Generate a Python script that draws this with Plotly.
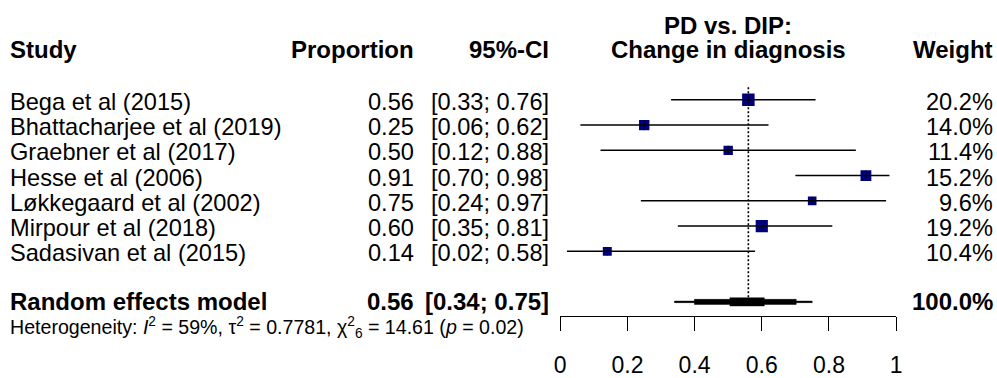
import plotly.graph_objects as go

# ---------------- data ----------------
studies = ["Bega et al (2015)", "Bhattacharjee et al (2019)", "Graebner et al (2017)",
           "Hesse et al (2006)", "Løkkegaard et al (2002)", "Mirpour et al (2018)",
           "Sadasivan et al (2015)"]
proportion = [0.56, 0.25, 0.50, 0.91, 0.75, 0.60, 0.14]
ci_lower = [0.33, 0.06, 0.12, 0.70, 0.24, 0.35, 0.02]
ci_upper = [0.76, 0.62, 0.88, 0.98, 0.97, 0.81, 0.58]
weight = [20.2, 14.0, 11.4, 15.2, 9.6, 19.2, 10.4]

pooled_label = "Random effects model"
pooled_est = 0.56
pooled_lower = 0.34
pooled_upper = 0.75
pooled_weight = 100.0

het_I2 = "59%"
het_tau2 = "0.7781"
het_df = "6"
het_chi2 = "14.61"
het_p = "0.02"

x_ticks = [0, 0.2, 0.4, 0.6, 0.8, 1]
x_tick_labels = ["0", "0.2", "0.4", "0.6", "0.8", "1"]

# ---------------- layout constants ----------------
W, H = 997, 378
FONT = "Liberation Sans, Arial, sans-serif"
FS = 23.6
FS_B = 24
FS_HET = 19.6
ROW_PX = 25.8
FIRST_ROW_PX = 102
AXIS_PX = 323
AX_LEFT, AX_RIGHT = 561, 901
LEFT_X = 3
PROP_X = 414
CI_X = 551
W_X = 1000

rows = list(range(1, len(studies) + 1))
pooled_row = len(studies) + 2

y_top = 1 - FIRST_ROW_PX / ROW_PX
y_bottom = 1 + (AXIS_PX - FIRST_ROW_PX) / ROW_PX


def px(xp):
    return xp / W


fig = go.Figure()

# reference line at pooled estimate
fig.add_trace(go.Scatter(
    x=[pooled_est, pooled_est], y=[0.5, pooled_row - 0.15], mode="lines",
    line=dict(color="black", width=1.6, dash="2px,2px"), hoverinfo="skip", showlegend=False))

# squares
wmax = max(weight)
sizes = [12.5 * (w / wmax) ** 0.5 for w in weight]
fig.add_trace(go.Scatter(
    x=proportion, y=rows, mode="markers",
    marker=dict(symbol="square", size=sizes, color="#000080", opacity=1,
                line=dict(width=0)),
    hoverinfo="skip", showlegend=False))

# CI lines
for r, lo, hi in zip(rows, ci_lower, ci_upper):
    fig.add_trace(go.Scatter(
        x=[lo, hi], y=[r, r], mode="lines",
        line=dict(color="black", width=1.5), hoverinfo="skip", showlegend=False))

# small vertical ticks at point estimates
fig.add_trace(go.Scatter(
    x=proportion, y=rows, mode="markers",
    marker=dict(symbol="line-ns", size=[s * 0.7 for s in sizes], color="black",
                line=dict(color="black", width=1)),
    hoverinfo="skip", showlegend=False))

# pooled diamond (stepped, as in the low-resolution reference)
h0, h1, h2 = 0.03, 0.10, 0.16
dl = pooled_est - pooled_lower
du = pooled_upper - pooled_est
xs_top = [pooled_lower, pooled_lower,
          pooled_est - 0.73 * dl, pooled_est - 0.73 * dl,
          pooled_est - 0.25 * dl, pooled_est - 0.25 * dl,
          pooled_est + 0.25 * du, pooled_est + 0.25 * du,
          pooled_est + 0.75 * du, pooled_est + 0.75 * du,
          pooled_upper, pooled_upper]
ys_top = [0, h0, h0, h1, h1, h2, h2, h1, h1, h0, h0, 0]
xs = xs_top + xs_top[::-1][1:]
ys = [pooled_row - v for v in ys_top] + [pooled_row + v for v in ys_top[::-1][1:]]
fig.add_trace(go.Scatter(
    x=xs, y=ys, mode="lines", fill="toself", fillcolor="black",
    line=dict(color="black", width=0.5), hoverinfo="skip", showlegend=False))

ann = []


def txt(text, x, y, xanchor, bold=False, size=None, xref="paper", yref="y"):
    t = f"<b>{text}</b>" if bold else text
    ann.append(dict(text=t, x=x, y=y, xref=xref, yref=yref, xanchor=xanchor,
                    yanchor="middle", showarrow=False, borderpad=0,
                    font=dict(family=FONT, size=size or (FS_B if bold else FS), color="black")))


# headers
header_row = -1
txt("Study", px(LEFT_X), header_row, "left", bold=True)
txt("Proportion", px(PROP_X), header_row, "right", bold=True)
txt("95%-CI", px(CI_X), header_row, "right", bold=True)
txt("Change in diagnosis", 0.5, header_row, "center", bold=True, xref="x")
txt("PD vs. DIP:", 0.5, header_row - 0.96, "center", bold=True, xref="x")
txt("Weight", px(W_X), header_row, "right", bold=True)

# study rows
for r, s, p, lo, hi, w in zip(rows, studies, proportion, ci_lower, ci_upper, weight):
    txt(s, px(LEFT_X), r + 0.08, "left")
    txt(f"{p:.2f}", px(PROP_X), r + 0.08, "right")
    txt(f"[{lo:.2f}; {hi:.2f}]", px(CI_X), r + 0.08, "right")
    txt(f"{w:.1f}%", px(W_X), r + 0.08, "right")

# pooled row
txt(pooled_label, px(LEFT_X), pooled_row, "left", bold=True)
txt(f"{pooled_est:.2f}", px(PROP_X), pooled_row, "right", bold=True)
txt(f"[{pooled_lower:.2f}; {pooled_upper:.2f}]", px(CI_X), pooled_row, "right", bold=True)
txt(f"{pooled_weight:.1f}%", px(W_X), pooled_row, "right", bold=True)

# heterogeneity
het = (f"Heterogeneity: <i>I</i><sup>2</sup> = {het_I2}, τ<sup>2</sup> = {het_tau2}, "
       f"χ<sup>2</sup><sub>{het_df}</sub> = {het_chi2} (<i>p</i> = {het_p})")
txt(het, px(LEFT_X), 1 - 335 / H, "left", size=FS_HET, yref="paper")

fig.update_layout(
    width=W, height=H,
    margin=dict(l=0, r=0, t=0, b=0),
    paper_bgcolor="white", plot_bgcolor="white",
    annotations=ann,
    xaxis=dict(domain=[AX_LEFT / W, AX_RIGHT / W], range=[0, 1],
               showgrid=False, zeroline=False, showline=True, linecolor="black", linewidth=1,
               ticks="outside", ticklen=14, tickwidth=1, tickcolor="black",
               tickvals=x_ticks, ticktext=x_tick_labels, ticklabelstandoff=14,
               tickfont=dict(family=FONT, size=23, color="black")),
    yaxis=dict(domain=[(H - AXIS_PX) / H, 1], range=[y_bottom, y_top],
               showgrid=False, zeroline=False, showline=False, showticklabels=False),
    showlegend=False,
)

fig.write_html("out.html")
